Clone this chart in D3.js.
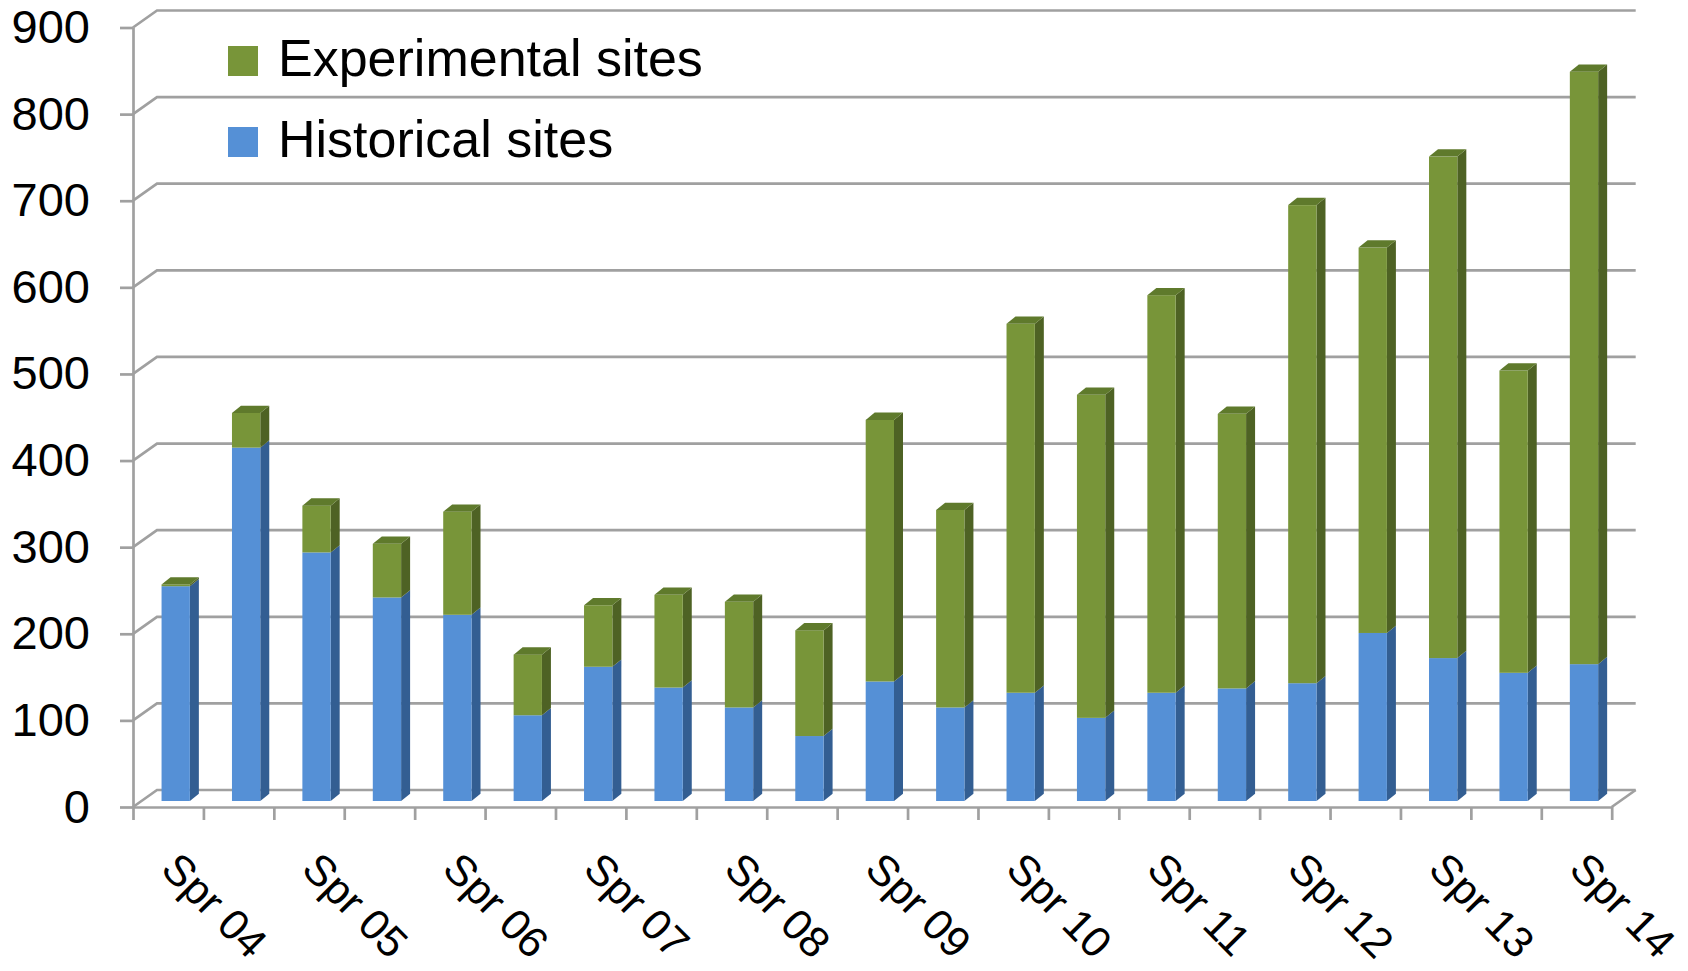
<!DOCTYPE html>
<html>
<head>
<meta charset="utf-8">
<script src="https://cdn.jsdelivr.net/npm/d3@7"></script>
<style>
  body { margin: 0; background: #fff; }
  svg { display: block; font-family: "Liberation Sans", Arial, sans-serif; }
</style>
</head>
<body>
<div id="chart"></div>
<script>
// one bar per term, only the spring terms get a label
var categories = ["Spr 04", "Fall 04", "Spr 05", "Fall 05", "Spr 06", "Fall 06",
    "Spr 07", "Fall 07", "Spr 08", "Fall 08", "Spr 09", "Fall 09", "Spr 10",
    "Fall 10", "Spr 11", "Fall 11", "Spr 12", "Fall 12", "Spr 13", "Fall 13", "Spr 14"];
var tickLabels = ["Spr 04", "Spr 05", "Spr 06", "Spr 07", "Spr 08", "Spr 09",
    "Spr 10", "Spr 11", "Spr 12", "Spr 13", "Spr 14"];
var historical = [248, 408, 287, 235, 215, 99, 155, 131, 108, 75, 138,
    108, 125, 96, 125, 130, 136, 194, 165, 148, 158];
var experimental = [2, 40, 54, 62, 119, 70, 71, 107, 122, 122, 302,
    228, 426, 373, 459, 317, 552, 445, 579, 349, 684];
var yTicks = [0, 100, 200, 300, 400, 500, 600, 700, 800, 900];
var seriesNames = ["Experimental sites", "Historical sites"];

var width = 1688, height = 971;
var plotLeft = 133, plotRight = 1611.7, plotBottom = 807, plotTop = 27.5;
var wall = {dx: 24, dy: 17},      // depth of the back wall
    shift = {dx: 7.5, dy: 6},     // bars sit a bit behind the front edge
    bar = {dx: 9, dy: 7.3};       // depth of each bar

var colors = {
    historical: {front: "#5590d6", side: "#335e92", top: "#4a7fc0"},
    experimental: {front: "#789539", side: "#4e6224", top: "#5f7a2c"}
};
var gridColor = "#a0a0a0";

var table = categories.map(function(c, i) {
    return {cat: c, historical: historical[i], experimental: experimental[i]};
});
var stacked = d3.stack().keys(["historical", "experimental"])(table);

var x = d3.scaleBand()
    .domain(categories)
    .range([plotLeft, plotRight])
    .paddingInner(0.598)
    .paddingOuter(0.299);

var y = d3.scaleLinear()
    .domain([0, 900])
    .range([plotBottom, plotTop]);

var svg = d3.select("#chart").append("svg")
    .attr("width", width)
    .attr("height", height);

svg.append("rect").attr("width", width).attr("height", height).attr("fill", "#fff");

// gridlines on the back wall, with the short diagonal to the front axis
svg.append("g")
    .selectAll("path")
    .data(yTicks)
    .enter().append("path")
    .attr("fill", "none")
    .attr("stroke", gridColor)
    .attr("stroke-width", 2.7)
    .attr("d", function(d) {
        var yy = y(d);
        return "M" + plotLeft + "," + yy + "L" + (plotLeft + wall.dx) + "," + (yy - wall.dy) +
               "L" + (plotRight + wall.dx) + "," + (yy - wall.dy);
    });

// floor right corner
svg.append("path")
    .attr("fill", "none")
    .attr("stroke", gridColor)
    .attr("stroke-width", 2.7)
    .attr("d", "M" + plotRight + "," + plotBottom + "L" + (plotRight + wall.dx) + "," + (plotBottom - wall.dy));

// y axis
var yAxis = svg.append("g")
    .attr("transform", "translate(" + plotLeft + ",0)")
    .call(d3.axisLeft(y).tickValues(yTicks).tickSize(13).tickSizeOuter(0).tickPadding(30));
yAxis.selectAll("path, line").attr("stroke", gridColor).attr("stroke-width", 2.7);
yAxis.selectAll("text")
    .attr("font-size", 47)
    .attr("font-family", "Liberation Sans, Arial, sans-serif")
    .attr("fill", "#000");

// x axis: tick marks between the bars
var xIdx = d3.scaleLinear().domain([0, categories.length]).range([plotLeft, plotRight]);
var xAxis = svg.append("g")
    .attr("transform", "translate(0," + plotBottom + ")")
    .call(d3.axisBottom(xIdx).tickValues(d3.range(categories.length + 1))
        .tickSize(13).tickSizeOuter(0).tickFormat(""));
xAxis.selectAll("path, line").attr("stroke", gridColor).attr("stroke-width", 2.7);

// rotated labels
svg.append("g")
    .selectAll("text")
    .data(tickLabels)
    .enter().append("text")
    .attr("transform", function(d) {
        var cx = x(d) + x.bandwidth() / 2 - 9;
        return "translate(" + cx + ",871) rotate(45)";
    })
    .attr("font-size", 43)
    .attr("fill", "#000")
    .text(function(d) { return d; });

// bars
var bars = svg.append("g")
    .attr("transform", "translate(" + shift.dx + "," + (-shift.dy) + ")");
var bw = x.bandwidth();

stacked.forEach(function(layer, li) {
    var col = colors[layer.key];
    var g = bars.append("g");

    g.selectAll("path.side")
        .data(layer)
        .enter().append("path")
        .attr("class", "side")
        .attr("fill", col.side)
        .attr("d", function(d) {
            var x1 = x(d.data.cat) + bw, y1 = y(d[1]), y0 = y(d[0]);
            return "M" + x1 + "," + y1 + "L" + (x1 + bar.dx) + "," + (y1 - bar.dy) +
                   "L" + (x1 + bar.dx) + "," + (y0 - bar.dy) + "L" + x1 + "," + y0 + "Z";
        });

    g.selectAll("rect")
        .data(layer)
        .enter().append("rect")
        .attr("x", function(d) { return x(d.data.cat); })
        .attr("y", function(d) { return y(d[1]); })
        .attr("width", bw)
        .attr("height", function(d) { return y(d[0]) - y(d[1]); })
        .attr("fill", col.front);

    // top face only on the top segment
    if (li == stacked.length - 1) {
        g.selectAll("path.top")
            .data(layer)
            .enter().append("path")
            .attr("class", "top")
            .attr("fill", col.top)
            .attr("d", function(d) {
                var x0 = x(d.data.cat), y1 = y(d[1]);
                return "M" + x0 + "," + y1 + "L" + (x0 + bar.dx) + "," + (y1 - bar.dy) +
                       "L" + (x0 + bw + bar.dx) + "," + (y1 - bar.dy) + "L" + (x0 + bw) + "," + y1 + "Z";
            });
    }
});

// legend
var legend = svg.append("g")
    .selectAll("g")
    .data(seriesNames)
    .enter().append("g")
    .attr("transform", function(d, i) { return "translate(228," + (46 + i * 81) + ")"; });

legend.append("rect")
    .attr("width", 30)
    .attr("height", 30)
    .attr("fill", function(d, i) { return i == 0 ? colors.experimental.front : colors.historical.front; });

legend.append("text")
    .attr("x", 50)
    .attr("y", 30)
    .attr("font-size", 52)
    .attr("fill", "#000")
    .text(function(d) { return d; });
</script>
</body>
</html>
